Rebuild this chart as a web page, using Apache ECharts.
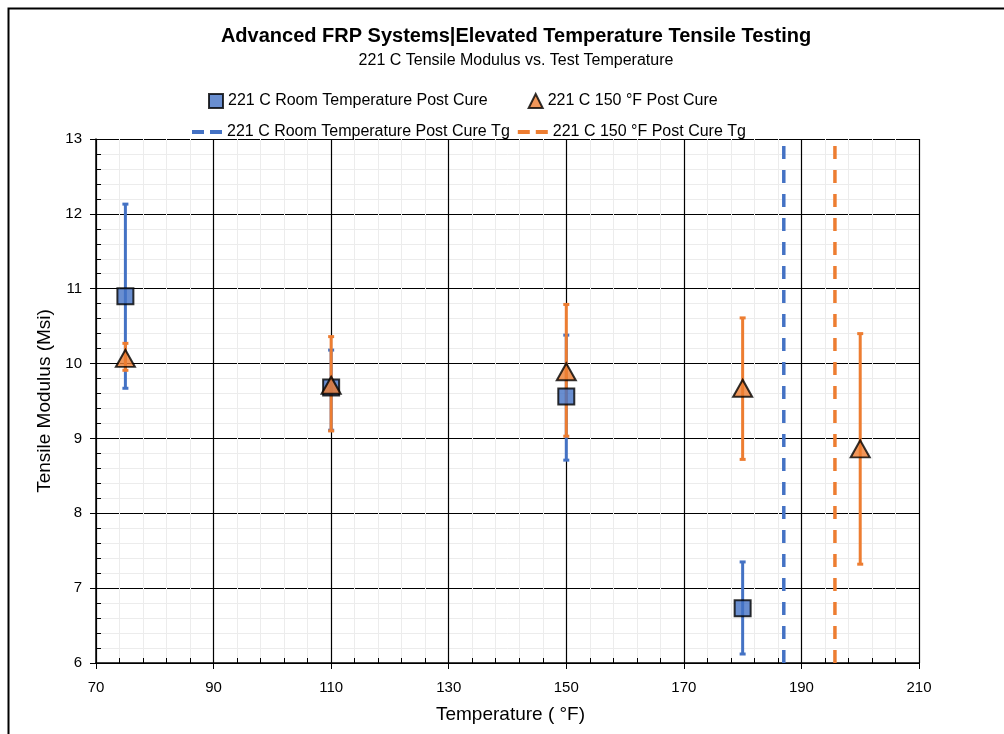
<!DOCTYPE html>
<html lang="en">
<head>
    <meta charset="UTF-8">
    <title>Elevated Temperature Tensile Testing</title>
    <script src="https://cdn.jsdelivr.net/npm/echarts@6/dist/echarts.min.js"></script>
    <style>
        html, body { margin: 0; padding: 0; background: #fff; }
    </style>
</head>
<body>
<div id="main" style="width: 1004px;height:734px;"></div>
</body>
<script type="text/javascript">

    // test temperatures (F) and tensile modulus (Msi)
    var tempRT = [75, 110, 150, 180];
    var modRT = [10.90, 9.68, 9.56, 6.73];
    var modRTLow = [9.67, 9.11, 8.71, 6.12];
    var modRTHigh = [12.13, 10.18, 10.38, 7.35];

    var temp150 = [75, 110, 150, 180, 200];
    var mod150 = [10.07, 9.71, 9.89, 9.67, 8.86];
    var mod150Low = [9.91, 9.10, 9.03, 8.72, 7.32];
    var mod150High = [10.27, 10.36, 10.79, 10.61, 10.40];

    // glass transition temperatures
    var tgRT = 187;
    var tg150 = 195.7;

    var nameRT = '221 C Room Temperature Post Cure';
    var name150 = '221 C 150 °F Post Cure';
    var nameRTTg = '221 C Room Temperature Post Cure Tg';
    var name150Tg = '221 C 150 °F Post Cure Tg';

    var blue = '#4472C4';
    var orange = '#ED7D31';
    var font = 'Liberation Sans';
    var dashIcon = 'path://M0,0h12v4h-12z M18,0h12v4h-12z';

    function pairs(xs, ys) {
        return xs.map(function (x, i) { return [x, ys[i]]; });
    }
    function bars(xs, lo, hi) {
        return xs.map(function (x, i) { return [x, lo[i], hi[i]]; });
    }

    function errorBar(color) {
        return function (params, api) {
            var x = api.value(0);
            var lo = api.coord([x, api.value(1)]);
            var hi = api.coord([x, api.value(2)]);
            var w = 3;
            var style = { stroke: color, lineWidth: 3 };
            return {
                type: 'group',
                children: [
                    { type: 'line', shape: { x1: lo[0], y1: lo[1], x2: hi[0], y2: hi[1] }, style: style },
                    { type: 'line', shape: { x1: lo[0] - w, y1: lo[1], x2: lo[0] + w, y2: lo[1] }, style: style },
                    { type: 'line', shape: { x1: hi[0] - w, y1: hi[1], x2: hi[0] + w, y2: hi[1] }, style: style }
                ]
            };
        };
    }

    // second copy of each axis only carries the inward minor ticks
    function tickAxis(min, max, interval, pos) {
        return {
            type: 'value',
            position: pos,
            min: min, max: max, interval: interval,
            axisLine: { show: false },
            axisLabel: { show: false },
            axisTick: { show: false, inside: true },
            minorTick: { show: true, splitNumber: 5, length: 5, lineStyle: { color: '#000' } },
            splitLine: { show: false },
            minorSplitLine: { show: false }
        };
    }

    var myChart = echarts.init(document.getElementById('main'));

    var option = {
        animation: false,
        backgroundColor: '#fff',
        graphic: [{
            type: 'rect',
            left: 6, top: 6,
            shape: { width: 1010, height: 740 },
            style: { fill: 'none', stroke: '#000', lineWidth: 2 },
            silent: true
        }],
        title: {
            text: 'Advanced FRP Systems|Elevated Temperature Tensile Testing',
            subtext: '221 C Tensile Modulus vs. Test Temperature',
            left: 511,
            textAlign: 'center',
            top: 21,
            itemGap: 7,
            textStyle: { fontFamily: font, fontSize: 20, fontWeight: 'bold', color: '#000' },
            subtextStyle: { fontFamily: font, fontSize: 16, color: '#000' }
        },
        legend: [{
            data: [nameRT, name150],
            top: 88,
            left: 203,
            itemGap: 40,
            itemWidth: 14,
            itemHeight: 14,
            textStyle: { fontFamily: font, fontSize: 16, color: '#000' }
        }, {
            data: [
                { name: nameRTTg, icon: dashIcon },
                { name: name150Tg, icon: dashIcon }
            ],
            top: 119,
            left: 187,
            itemGap: 8,
            itemWidth: 30,
            itemHeight: 4,
            textStyle: { fontFamily: font, fontSize: 16, color: '#000' }
        }],
        grid: { left: 96, right: 85, top: 139, bottom: 71 },
        xAxis: [{
            type: 'value',
            position: 'bottom',
            min: 70, max: 210, interval: 20,
            name: 'Temperature ( °F)',
            nameLocation: 'middle',
            nameGap: 42,
            nameTextStyle: { fontFamily: font, fontSize: 19, color: '#000', padding: [0, 0, 0, 6] },
            axisLine: { lineStyle: { color: '#000', width: 1.5 } },
            axisTick: { length: 6, lineStyle: { color: '#000' } },
            axisLabel: { fontFamily: font, fontSize: 15, color: '#000', margin: 17 },
            splitLine: { lineStyle: { color: '#000', width: 1.2 } },
            minorTick: { show: false, splitNumber: 5 },
            minorSplitLine: { show: true, lineStyle: { color: '#ececec', width: 1 } }
        }, tickAxis(70, 210, 20, 'bottom')],
        yAxis: [{
            type: 'value',
            position: 'left',
            min: 6, max: 13, interval: 1,
            name: 'Tensile Modulus (Msi)',
            nameLocation: 'middle',
            nameGap: 41,
            nameTextStyle: { fontFamily: font, fontSize: 19, color: '#000' },
            axisLine: { show: true, lineStyle: { color: '#000', width: 1.5 } },
            axisTick: { show: true, length: 6, lineStyle: { color: '#000' } },
            axisLabel: { fontFamily: font, fontSize: 15, color: '#000', margin: 14 },
            splitLine: { lineStyle: { color: '#000', width: 1.2 } },
            minorTick: { show: false, splitNumber: 5 },
            minorSplitLine: { show: true, lineStyle: { color: '#ececec', width: 1 } }
        }, tickAxis(6, 13, 1, 'left')],
        series: [
            {
                name: nameRTTg,
                type: 'line',
                data: [[tgRT, 6], [tgRT, 13]],
                symbol: 'none',
                color: blue,
                lineStyle: { color: blue, width: 3.5, type: [13, 11] },
                z: 2
            },
            {
                name: name150Tg,
                type: 'line',
                data: [[tg150, 6], [tg150, 13]],
                symbol: 'none',
                color: orange,
                lineStyle: { color: orange, width: 3.5, type: [13, 11] },
                z: 2
            },
            {
                type: 'custom',
                renderItem: errorBar(blue),
                data: bars(tempRT, modRTLow, modRTHigh),
                encode: { x: 0, y: [1, 2] },
                z: 3
            },
            {
                type: 'custom',
                renderItem: errorBar(orange),
                data: bars(temp150, mod150Low, mod150High),
                encode: { x: 0, y: [1, 2] },
                z: 4
            },
            {
                name: nameRT,
                type: 'scatter',
                data: pairs(tempRT, modRT),
                symbol: 'rect',
                symbolSize: 16,
                itemStyle: { color: blue, borderColor: '#000', borderWidth: 2 },
                z: 5
            },
            {
                name: name150,
                type: 'scatter',
                data: pairs(temp150, mod150),
                symbol: 'triangle',
                symbolSize: [19, 17],
                itemStyle: { color: orange, borderColor: '#000', borderWidth: 2 },
                z: 6
            }
        ]
    };
    myChart.setOption(option);

</script>
</html>
